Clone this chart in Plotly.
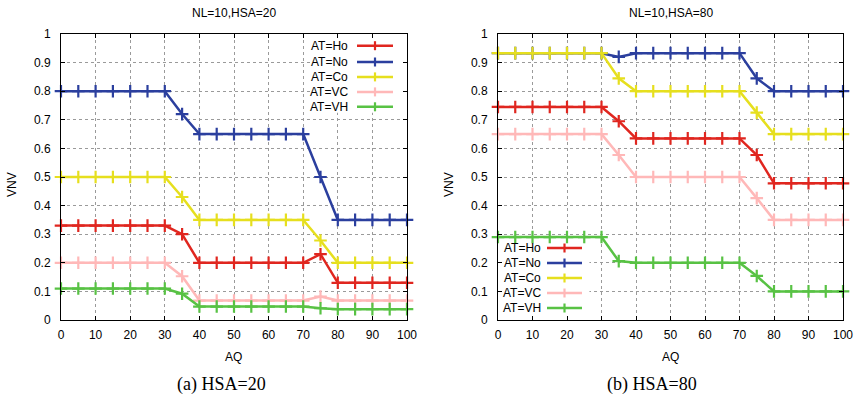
import plotly.graph_objects as go

W, H = 858, 404

aq = [0, 5, 10, 15, 20, 25, 30, 35, 40, 45, 50, 55, 60, 65, 70, 75, 80, 85, 90, 95, 100]
series_names = ["AT=Ho", "AT=No", "AT=Co", "AT=VC", "AT=VH"]
colors = ["#e0261f", "#2b3f9e", "#e6df1e", "#ffb8b8", "#58c244"]

# HSA=20
ho_20 = [0.33]*7 + [0.30] + [0.20]*7 + [0.23] + [0.13]*5
no_20 = [0.80]*7 + [0.72] + [0.65]*7 + [0.50] + [0.35]*5
co_20 = [0.50]*7 + [0.43] + [0.35]*7 + [0.278] + [0.20]*5
vc_20 = [0.20]*7 + [0.153] + [0.068]*7 + [0.082] + [0.068]*5
vh_20 = [0.11]*7 + [0.092] + [0.047]*7 + [0.041] + [0.038]*5

# HSA=80
ho_80 = [0.745]*7 + [0.695] + [0.635]*7 + [0.577] + [0.478]*5
no_80 = [0.933]*7 + [0.92] + [0.933]*7 + [0.845] + [0.80]*5
co_80 = [0.933]*7 + [0.845] + [0.80]*7 + [0.725] + [0.65]*5
vc_80 = [0.65]*7 + [0.577] + [0.50]*7 + [0.426] + [0.35]*5
vh_80 = [0.29]*7 + [0.206] + [0.20]*7 + [0.154] + [0.10]*5

panel_titles = ["NL=10,HSA=20", "NL=10,HSA=80"]
captions = ["(a) HSA=20", "(b) HSA=80"]
x_title = "AQ"
y_title = "VNV"
x_ticks = list(range(0, 101, 10))
y_ticks = [i / 10 for i in range(11)]
y_ticktext = ["0", "0.1", "0.2", "0.3", "0.4", "0.5", "0.6", "0.7", "0.8", "0.9", "1"]

data = [[ho_20, no_20, co_20, vc_20, vh_20], [ho_80, no_80, co_80, vc_80, vh_80]]

def px(xp):
    return xp / W

def py(yp):
    return 1 - yp / H

FONT = "Liberation Sans, Arial"
SERIF = "Liberation Serif, Times New Roman, serif"

fig = go.Figure()

axes = [("x", "y"), ("x2", "y2")]
for p, (xa, ya) in enumerate(axes):
    for i, name in enumerate(series_names):
        fig.add_trace(go.Scatter(
            x=aq, y=data[p][i], name=name, mode="lines+markers",
            xaxis=xa, yaxis=ya, cliponaxis=False, showlegend=False,
            line=dict(color=colors[i], width=2.5),
            marker=dict(symbol="cross-thin", size=9, line=dict(color=colors[i], width=2.2), color=colors[i]),
        ))

ax_common = dict(
    showline=True, linecolor="black", linewidth=1, mirror="ticks",
    ticks="inside", ticklen=4, tickcolor="black", tickwidth=1,
    showgrid=True, gridcolor="#9a9a9a", griddash="dot", gridwidth=1,
    zeroline=False, automargin=False,
    tickfont=dict(family=FONT, size=12, color="black"),
)

x_dom = [(px(61), px(407)), (px(498), px(843))]
y_dom = (py(320), py(34))

fig.update_layout(
    template="none",
    width=W, height=H, margin=dict(l=0, r=0, t=0, b=0, autoexpand=False),
    paper_bgcolor="white", plot_bgcolor="white", showlegend=False,
    xaxis=dict(domain=x_dom[0], range=[0, 100], tickvals=x_ticks, anchor="y", ticklabelstandoff=4, **ax_common),
    yaxis=dict(domain=y_dom, range=[0, 1], tickvals=y_ticks, ticktext=y_ticktext, anchor="x", ticklabelstandoff=7, **ax_common),
    xaxis2=dict(domain=x_dom[1], range=[0, 100], tickvals=x_ticks, anchor="y2", ticklabelstandoff=4, **ax_common),
    yaxis2=dict(domain=y_dom, range=[0, 1], tickvals=y_ticks, ticktext=y_ticktext, anchor="x2", ticklabelstandoff=7, **ax_common),
)

annotations = []
shapes = []
centers = [(x_dom[0][0] + x_dom[0][1]) / 2, (x_dom[1][0] + x_dom[1][1]) / 2]
ylab_x = [px(12), px(449)]

def ann(text, x, y, size=12, family=FONT, xanchor="center", angle=0):
    return dict(text=text, x=x, y=y, xref="paper", yref="paper", xanchor=xanchor, yanchor="middle",
                textangle=angle, showarrow=False, font=dict(family=family, size=size, color="black"))

for p in range(2):
    annotations.append(ann(panel_titles[p], centers[p], py(13)))
    annotations.append(ann(x_title, centers[p], py(357)))
    annotations.append(ann(y_title, ylab_x[p], py(185), angle=-90))
cap_x = [px(221), px(652)]
for p in range(2):
    annotations.append(ann(captions[p], cap_x[p], py(384), size=18, family=SERIF))

# legend boxes (white background hiding grid)
shapes.append(dict(type="rect", xref="x", yref="y", x0=72, x1=100, y0=0.725, y1=1,
                   fillcolor="white", line=dict(width=0), layer="between"))
shapes.append(dict(type="rect", xref="x2", yref="y2", x0=0, x1=26.5, y0=0, y1=0.272,
                   fillcolor="white", line=dict(width=0), layer="between"))

leg_rows = [[45.7, 62.0, 76.9, 91.9, 106.8], [248, 263, 278, 293, 308]]
leg_text_end = [350, 543]
leg_line = [(357, 393), (547, 582)]
for p in range(2):
    for i, name in enumerate(series_names):
        yy = leg_rows[p][i]
        annotations.append(ann(name, px(leg_text_end[p]), py(yy), xanchor="right"))
        x0, x1 = leg_line[p]
        shapes.append(dict(type="line", xref="paper", yref="paper", x0=px(x0), x1=px(x1), y0=py(yy), y1=py(yy),
                           line=dict(color=colors[i], width=2.5)))
        xc = (x0 + x1) / 2
        shapes.append(dict(type="line", xref="paper", yref="paper", x0=px(xc), x1=px(xc), y0=py(yy - 4.5), y1=py(yy + 4.5),
                           line=dict(color=colors[i], width=2.2)))

fig.update_layout(annotations=annotations, shapes=shapes)
fig.write_html(
    "out.html",
    config={"displayModeBar": False, "staticPlot": True},
    post_script="document.body.style.margin='0';document.body.style.padding='0';document.body.style.overflow='hidden';",
)
